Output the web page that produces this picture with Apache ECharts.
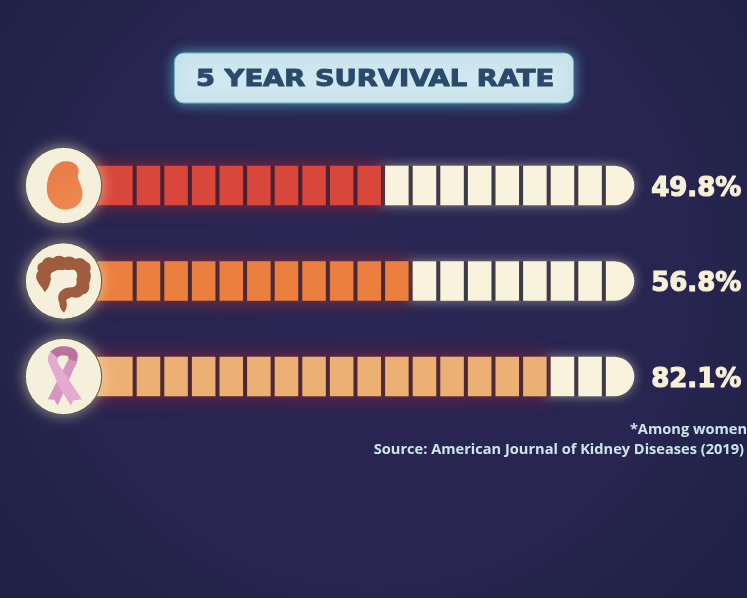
<!DOCTYPE html>
<html><head><meta charset="utf-8">
<style>html,body{margin:0;padding:0;background:#25244e}#c{width:747px;height:598px}</style>
<script src="https://cdn.jsdelivr.net/npm/echarts@6/dist/echarts.min.js"></script>
</head><body><div id="c"></div>
<script>
const titleText = '5 YEAR SURVIVAL RATE';
const conditions = ['Kidney disease', 'Colorectal cancer', 'Breast cancer'];
const rates = ['49.8%', '56.8%', '82.1%'];
const filledSegments = [10, 11, 16];
const totalSegments = 19;
const rowColors = ['#d9473c', '#ea7f40', '#edb074'];
const rowGlows = ['#8f2233', '#8f2f35', '#8a2238'];
const gapColors = ['#4a2238', '#4a2a38', '#4c2838'];
const noteLines = ['*Among women', 'Source: American Journal of Kidney Diseases (2019)'];

const segData = [];
conditions.forEach((_, r) => { for (let s = 0; s < totalSegments; s++) segData.push([s, r]); });
const badgeData = conditions.map((_, r) => [-1.652, r]);
const rowData = conditions.map((_, r) => [0, r]);

const kidney = 'M195 88C222 86 242 104 234 126C228 142 247 158 247 186C247 216 222 232 195 232C165 232 140 205 140 170C140 130 160 90 195 88Z';
const colon = 'M134 484C130 470 120 464 115 452C108 442 108 430 116 420C110 408 116 396 128 394C132 378 150 376 160 382C170 370 186 374 194 380C206 374 218 378 226 384C238 378 252 384 257 392C270 396 274 410 268 422C274 434 270 448 266 458C270 474 262 488 248 490C240 502 224 502 214 498C206 504 200 502 198 508C202 518 202 532 192 545C182 538 178 526 178 514C172 502 174 486 186 478C196 468 210 470 220 468C228 466 232 456 228 446C234 434 230 424 224 418C212 414 206 420 196 416C184 420 172 414 164 422C152 424 150 434 154 444C150 456 148 472 134 484Z';
const ribbonArch = 'M168 652C190 644 224 648 231 668C232 676 230 684 226 692L204 686C206 680 204 678 198 676C186 672 176 676 172 682L150 664Z';
const ribbonA = 'M143 684C145 668 155 658 170 652L178 672C170 682 170 692 176 702L245 806L219 810L212 826L178 770L143 692Z';
const ribbonB = 'M231 672C233 692 226 704 218 718L172 826L162 808L143 806L200 694C206 684 208 680 200 674Z';

const iconParts = [
  [{d: kidney, b: [140, 87, 107, 145], f: {type:'linear',x:0,y:0,x2:1,y2:1,colorStops:[{offset:0,color:'#e87a44'},{offset:1,color:'#ee8a52'}]}}],
  [{d: colon, b: [108, 374, 164, 171], f: '#9f5c3f'}],
  [{d: ribbonB, b: [143, 672, 90, 154], f: '#d796c0'},
   {d: ribbonA, b: [143, 652, 102, 174], f: '#e4aad0'},
   {d: ribbonArch, b: [150, 647, 82, 45], f: '#b9739f'}]
];
const iconCenterY = [160, 450, 738];

function renderRowGlow(params, api) {
  const r = api.value(1);
  const pos = api.coord([0, r]);
  const pitch = api.size([1, 0])[0];
  const h = api.size([0, 1])[1] * 0.415;
  const y = pos[1] - h / 2;
  const n = filledSegments[r];
  return {type: 'group', children: [
    {type: 'rect', shape: {x: pos[0] + n * pitch - pitch * 0.2, y, width: (totalSegments - n) * pitch + pitch * 0.23, height: h, r: [0, h / 2, h / 2, 0]},
      style: {fill: '#3e3a48', shadowBlur: 12, shadowColor: 'rgba(250,240,200,0.5)'}},
    {type: 'rect', shape: {x: pos[0] - pitch, y, width: (n + 1) * pitch - pitch * 0.1, height: h},
      style: {fill: gapColors[r], shadowBlur: 18, shadowColor: rowGlows[r]}}
  ]};
}

function renderSegment(params, api) {
  const s = api.value(0), r = api.value(1);
  const pos = api.coord([s, r]);
  const pitch = api.size([1, 0])[0];
  const h = api.size([0, 1])[1] * 0.415;
  const w = pitch * 0.853;
  const filled = s < filledSegments[r];
  const first = s === 0, last = s === totalSegments - 1;
  const x = first ? pos[0] - pitch : pos[0];
  const width = first ? w + pitch : last ? pitch * 1.03 : w;
  return {
    type: 'rect',
    shape: {x, y: pos[1] - h / 2, width, height: h, r: last ? [0, h / 2, h / 2, 0] : 0},
    style: {fill: filled ? rowColors[r] : '#f9f2dc'}
  };
}

function renderBadge(params, api) {
  const r = api.value(1);
  const c = api.coord([api.value(0), r]);
  const radius = api.size([0, 1])[1] * 0.4;
  const children = [{
    type: 'circle',
    shape: {cx: c[0], cy: c[1], r: radius},
    style: {fill: '#f4f0dc', stroke: '#55534a', lineWidth: 1, shadowBlur: 14, shadowColor: 'rgba(250,240,190,0.55)'}
  }];
  iconParts[r].forEach(p => {
    children.push({
      type: 'path',
      shape: {
        pathData: p.d,
        x: c[0] + (p.b[0] - 190) / 3,
        y: c[1] + (p.b[1] - iconCenterY[r]) / 3,
        width: p.b[2] / 3,
        height: p.b[3] / 3,
        layout: 'cover'
      },
      style: {fill: p.f}
    });
  });
  return {type: 'group', children};
}

function renderRate(params, api) {
  const r = api.value(1);
  const c = api.coord([api.value(0), r]);
  return {
    type: 'text',
    style: {
      x: c[0], y: c[1] + 3.5,
      text: rates[r],
      fill: '#f7f0d8',
      stroke: '#f7f0d8',
      lineWidth: 1.2,
      font: 'bold 26px "DejaVu Sans"',
      verticalAlign: 'middle',
      align: 'left',
      shadowBlur: 8,
      shadowColor: 'rgba(250,240,190,0.5)'
    }
  };
}

const chart = echarts.init(document.getElementById('c'), null, {width: 747, height: 598});
chart.setOption({
  animation: false,
  backgroundColor: {
    type: 'radial', x: 0.5, y: 0.45, r: 0.75,
    colorStops: [{offset: 0, color: '#2a2653'}, {offset: 0.7, color: '#282550'}, {offset: 1, color: '#1f2246'}]
  },
  grid: {left: 109.1, width: 524.4, top: 137.75, height: 286.5},
  xAxis: {type: 'value', min: 0, max: totalSegments, show: false},
  yAxis: {type: 'category', data: conditions, inverse: true, show: false},
  graphic: [
    {type: 'rect', z: 1, shape: {x: 174.5, y: 53, width: 399, height: 50, r: 9},
      style: {fill: '#cfe7ee', stroke: '#6fb0c6', lineWidth: 1, shadowBlur: 14, shadowColor: '#4f9dba'}},
    {type: 'text', z: 5, x: 196, y: 80, scaleX: 1.19, scaleY: 1,
      style: {x: 0, y: 0, text: titleText, align: 'left', verticalAlign: 'middle',
        font: 'bold 23px "DejaVu Sans"', fill: '#2b4a6b', stroke: '#2b4a6b', lineWidth: 1}},
    {type: 'text', z: 5, style: {x: 747, y: 429.5, text: noteLines[0], align: 'right', verticalAlign: 'middle',
      font: '700 14.6px "Open Sans"', fill: '#cbe5ea'}},
    {type: 'text', z: 5, style: {x: 744, y: 450, text: noteLines[1], align: 'right', verticalAlign: 'middle',
      font: '700 14.6px "Open Sans"', fill: '#cbe5ea'}}
  ],
  series: [
    {type: 'custom', clip: false, silent: true, coordinateSystem: 'cartesian2d', renderItem: renderRowGlow, data: rowData, encode: {x: 0, y: 1}},
    {type: 'custom', clip: false, silent: true, coordinateSystem: 'cartesian2d', renderItem: renderSegment, data: segData, encode: {x: 0, y: 1}},
    {type: 'custom', clip: false, silent: true, coordinateSystem: 'cartesian2d', renderItem: renderBadge, data: badgeData, encode: {x: 0, y: 1}},
    {type: 'custom', clip: false, silent: true, coordinateSystem: 'cartesian2d', renderItem: renderRate,
      data: conditions.map((_, r) => [totalSegments + 0.64, r]), encode: {x: 0, y: 1}}
  ]
});
</script></body></html>
